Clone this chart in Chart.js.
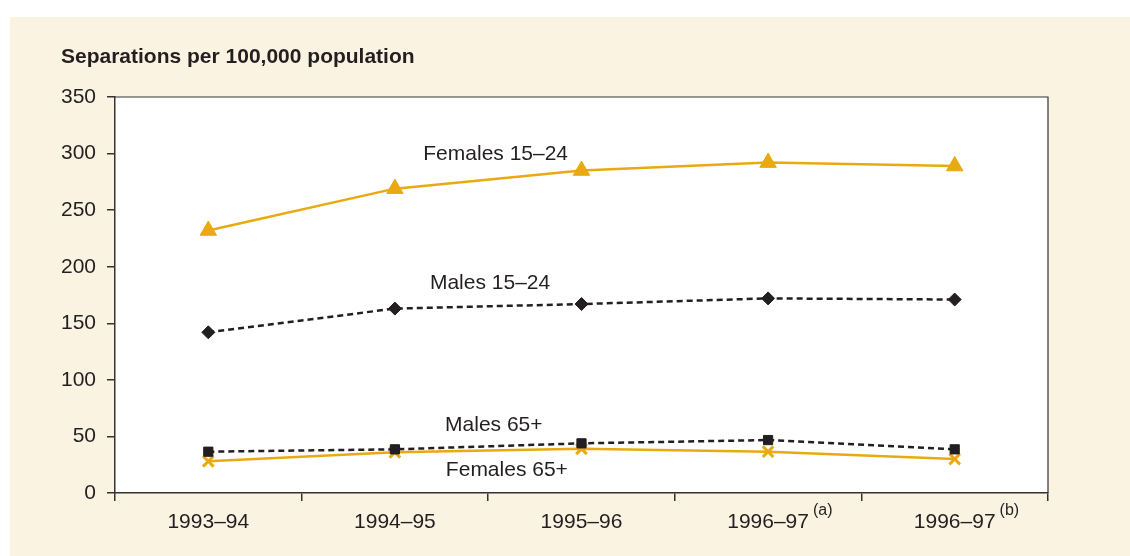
<!DOCTYPE html>
<html lang="en">
<head>
    <meta charset="UTF-8">
    <title>Separations per 100,000 population</title>
    <script src="https://cdn.jsdelivr.net/npm/chart.js@4.4.0/dist/chart.umd.min.js"></script>
    <style>
        body {
            margin: 0;
            background-color: #ffffff;
        }
        #wrap {
            width: 1130px;
            height: 556px;
        }
    </style>
</head>
<body>
    <div id="wrap">
        <canvas id="sepChart" width="1130" height="556"></canvas>
    </div>

    <script>
        const years = ['1993–94', '1994–95', '1995–96', '1996–97', '1996–97'];
        const yearNotes = ['', '', '', '(a)', '(b)'];
        const yTicks = [0, 50, 100, 150, 200, 250, 300, 350];

        const females1524 = [232, 269, 285, 292, 289];
        const males1524 = [142, 163, 167, 172, 171];
        const males65 = [36.5, 38.6, 43.9, 46.8, 38.6];
        const females65 = [28, 36, 39, 36.5, 30];

        // series labels, placed at (category index, value)
        const seriesLabels = ['Females 15–24', 'Males 15–24', 'Males 65+', 'Females 65+'];
        const labelIndex = [1.54, 1.51, 1.53, 1.6];
        const labelValue = [299, 185, 60, 20];

        const gold = '#E8AA10';
        const ink = '#231F20';
        const font = "'Liberation Sans', Arial, sans-serif";

        const decor = {
            id: 'decor',
            beforeDraw(chart) {
                const ctx = chart.ctx;
                const a = chart.chartArea;
                ctx.save();
                ctx.fillStyle = '#FBF3E2';
                ctx.fillRect(10, 17, chart.width - 10, chart.height - 17);
                ctx.fillStyle = '#ffffff';
                ctx.fillRect(a.left, a.top, a.right - a.left, a.bottom - a.top);
                ctx.fillStyle = ink;
                ctx.font = 'bold 21px ' + font;
                ctx.textBaseline = 'middle';
                ctx.textAlign = 'left';
                ctx.fillText('Separations per 100,000 population', 61, 57);
                ctx.restore();
            },
            afterDraw(chart) {
                const ctx = chart.ctx;
                const a = chart.chartArea;
                const x = chart.scales.x;
                const y = chart.scales.y;
                ctx.save();
                ctx.strokeStyle = '#333333';
                ctx.lineWidth = 1.2;
                ctx.beginPath();
                ctx.moveTo(a.left, a.top);
                ctx.lineTo(a.right, a.top);
                ctx.lineTo(a.right, a.bottom);
                ctx.stroke();

                ctx.fillStyle = ink;
                ctx.font = '21px ' + font;
                ctx.textAlign = 'center';
                ctx.textBaseline = 'middle';
                seriesLabels.forEach((t, i) => {
                    const px = x.getPixelForValue(0) + labelIndex[i] * (x.getPixelForValue(1) - x.getPixelForValue(0));
                    ctx.fillText(t, px, y.getPixelForValue(labelValue[i]));
                });

                ctx.textAlign = 'left';
                yearNotes.forEach((n, i) => {
                    if (!n) return;
                    ctx.font = '21px ' + font;
                    const w = ctx.measureText(years[i]).width;
                    ctx.font = '16px ' + font;
                    ctx.fillText(n, x.getPixelForValue(i) + w / 2 + 4, 511);
                });
                ctx.restore();
            }
        };

        new Chart(document.getElementById('sepChart'), {
            type: 'line',
            data: {
                labels: years,
                datasets: [
                    {
                        label: 'Females 15–24',
                        data: females1524,
                        borderColor: gold,
                        backgroundColor: gold,
                        borderWidth: 2.5,
                        pointStyle: 'triangle',
                        pointRadius: 9.5,
                        pointBorderWidth: 1,
                        order: 1
                    },
                    {
                        label: 'Males 15–24',
                        data: males1524,
                        borderColor: ink,
                        backgroundColor: ink,
                        borderWidth: 2.5,
                        borderDash: [6, 4],
                        pointStyle: 'rectRot',
                        pointRadius: 6.5,
                        pointBorderWidth: 1,
                        order: 2
                    },
                    {
                        label: 'Males 65+',
                        data: males65,
                        borderColor: ink,
                        backgroundColor: ink,
                        borderWidth: 2.5,
                        borderDash: [6, 4],
                        pointStyle: 'rect',
                        pointRadius: 6.5,
                        pointBorderWidth: 1,
                        order: 3
                    },
                    {
                        label: 'Females 65+',
                        data: females65,
                        borderColor: gold,
                        backgroundColor: gold,
                        borderWidth: 2.5,
                        pointStyle: 'crossRot',
                        pointRadius: 7.5,
                        pointBorderWidth: 3,
                        order: 4
                    }
                ]
            },
            options: {
                responsive: false,
                animation: false,
                layout: {
                    padding: { top: 97, right: 82, bottom: 0, left: 0 }
                },
                plugins: {
                    legend: { display: false },
                    tooltip: { enabled: false },
                    title: { display: false }
                },
                elements: {
                    line: { tension: 0 }
                },
                scales: {
                    x: {
                        offset: true,
                        afterFit: (s) => { s.height = 63; },
                        grid: {
                            offset: true,
                            drawOnChartArea: false,
                            drawTicks: true,
                            tickLength: 8,
                            color: '#333333',
                            lineWidth: 1.5
                        },
                        border: { color: '#333333', width: 1.5 },
                        ticks: {
                            color: ink,
                            padding: 9,
                            maxRotation: 0,
                            font: { family: font, size: 21 }
                        }
                    },
                    y: {
                        min: 0,
                        max: 350,
                        afterFit: (s) => { s.width = 115; },
                        afterBuildTicks: (s) => { s.ticks = yTicks.map(v => ({ value: v })); },
                        grid: {
                            drawOnChartArea: false,
                            drawTicks: true,
                            tickLength: 8,
                            color: '#333333',
                            lineWidth: 1.5
                        },
                        border: { color: '#333333', width: 1.5 },
                        ticks: {
                            color: ink,
                            padding: 11,
                            font: { family: font, size: 21 }
                        }
                    }
                }
            },
            plugins: [decor]
        });
    </script>
</body>
</html>
